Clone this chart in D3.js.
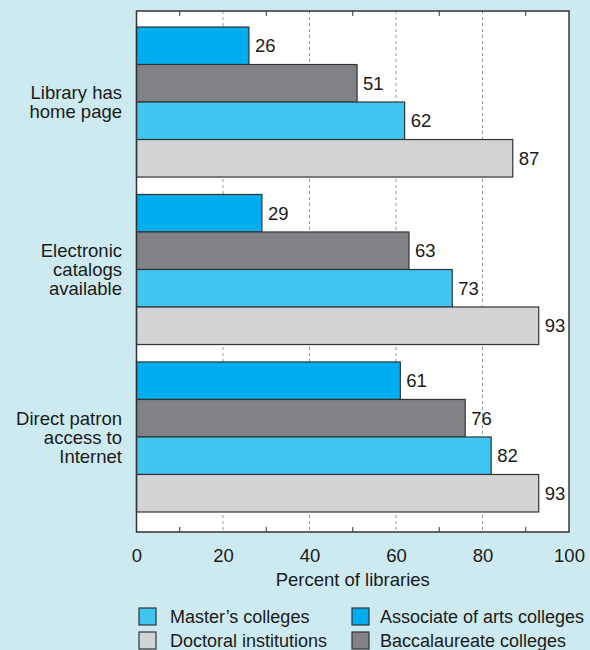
<!DOCTYPE html>
<html>
<head>
<meta charset="utf-8">
<script src="https://cdn.jsdelivr.net/npm/d3@7"></script>
<style>
  body { margin: 0; background: #cdeaf1; }
  text { font-family: "Liberation Sans", Arial, Helvetica, sans-serif; fill: #1a1a1a; }
</style>
</head>
<body>
<div id="chart"></div>
<script>
// data
const categories = ["Library has\nhome page", "Electronic\ncatalogs\navailable", "Direct patron\naccess to\nInternet"];
const seriesNames = ["Associate of arts colleges", "Baccalaureate colleges", "Master\u2019s colleges", "Doctoral institutions"];
const associate = [26, 29, 61];
const baccalaureate = [51, 63, 76];
const masters = [62, 73, 82];
const doctoral = [87, 93, 93];
const xTicks = [0, 20, 40, 60, 80, 100];
const minorTicks = [10, 30, 50, 70, 90];

const colors = ["#00aeef", "#808285", "#40c6f1", "#d1d3d4"];
const values = [associate, baccalaureate, masters, doctoral];

const W = 590, H = 650;
const plot = {left: 136.5, right: 569, top: 11, bottom: 532};
const fs = "18.5px";

const svg = d3.select("#chart").append("svg")
    .attr("width", W)
    .attr("height", H);

svg.append("rect")
    .attr("width", W).attr("height", H)
    .attr("fill", "#cdeaf1");

// plot frame background
svg.append("rect")
    .attr("x", plot.left).attr("y", plot.top)
    .attr("width", plot.right - plot.left)
    .attr("height", plot.bottom - plot.top)
    .attr("fill", "#fff");

const x = d3.scaleLinear().domain([0, 100]).range([plot.left, plot.right]);
const y0 = d3.scaleBand()
    .domain(categories)
    .range([27, 512])
    .paddingInner(0.104);
const y1 = d3.scaleBand()
    .domain(d3.range(seriesNames.length))
    .range([0, y0.bandwidth()]);

// dashed gridlines
svg.selectAll(".grid")
  .data(xTicks.slice(1, -1))
  .join("line")
    .attr("x1", d => x(d)).attr("x2", d => x(d))
    .attr("y1", plot.top).attr("y2", plot.bottom)
    .attr("stroke", "#999")
    .attr("stroke-width", 1)
    .attr("stroke-dasharray", "3,3");

// minor ticks top and bottom
svg.selectAll(".mt")
  .data(minorTicks)
  .join("line")
    .attr("x1", d => x(d)).attr("x2", d => x(d))
    .attr("y1", plot.top).attr("y2", plot.top + 5)
    .attr("stroke", "#333");
svg.selectAll(".mb")
  .data(minorTicks)
  .join("line")
    .attr("x1", d => x(d)).attr("x2", d => x(d))
    .attr("y1", plot.bottom - 5).attr("y2", plot.bottom)
    .attr("stroke", "#333");

// bars
const groups = svg.selectAll(".grp")
  .data(categories)
  .join("g")
    .attr("transform", d => `translate(0,${y0(d)})`);

groups.each(function(cat, ci) {
  const g = d3.select(this);
  values.forEach((vals, si) => {
    g.append("rect")
      .attr("x", x(0))
      .attr("y", y1(si))
      .attr("width", x(vals[ci]) - x(0))
      .attr("height", y1.bandwidth())
      .attr("fill", colors[si])
      .attr("stroke", "#333")
      .attr("stroke-width", 1.2);
    g.append("text")
      .attr("x", x(vals[ci]) + 6)
      .attr("y", y1(si) + y1.bandwidth() / 2)
      .attr("dy", "0.36em")
      .attr("font-size", fs)
      .text(vals[ci]);
  });
  // category label
  const lines = cat.split("\n");
  const t = g.append("text")
    .attr("text-anchor", "end")
    .attr("font-size", fs);
  lines.forEach((ln, i) => {
    t.append("tspan")
      .attr("x", 122)
      .attr("y", y0.bandwidth() / 2 + (i - (lines.length - 1) / 2) * 19)
      .attr("dy", "0.36em")
      .text(ln);
  });
});

// frame
svg.append("rect")
    .attr("x", plot.left).attr("y", plot.top)
    .attr("width", plot.right - plot.left)
    .attr("height", plot.bottom - plot.top)
    .attr("fill", "none")
    .attr("stroke", "#333")
    .attr("stroke-width", 1.5);

// x axis labels
const xAxis = svg.append("g")
    .attr("transform", `translate(0,${plot.bottom})`)
    .call(d3.axisBottom(x).tickValues(xTicks).tickSize(0).tickPadding(17));
xAxis.select(".domain").remove();
xAxis.selectAll("text")
    .attr("font-size", fs)
    .attr("font-family", "Liberation Sans, Arial, sans-serif")
    .attr("fill", "#1a1a1a");

svg.append("text")
    .attr("x", (plot.left + plot.right) / 2)
    .attr("y", 586)
    .attr("text-anchor", "middle")
    .attr("font-size", fs)
    .text("Percent of libraries");

// legend
const legendOrder = [2, 0, 3, 1];
const legendPos = [[139, 608], [352, 608], [139, 632], [352, 632]];
legendOrder.forEach((si, i) => {
  const [lx, ly] = legendPos[i];
  svg.append("rect")
    .attr("x", lx).attr("y", ly)
    .attr("width", 17).attr("height", 17)
    .attr("fill", colors[si])
    .attr("stroke", "#333")
    .attr("stroke-width", 1.2);
  svg.append("text")
    .attr("x", lx + (i % 2 === 0 ? 31 : 28))
    .attr("y", ly + 9)
    .attr("dy", "0.36em")
    .attr("font-size", "18px")
    .text(seriesNames[si]);
});
</script>
</body>
</html>
